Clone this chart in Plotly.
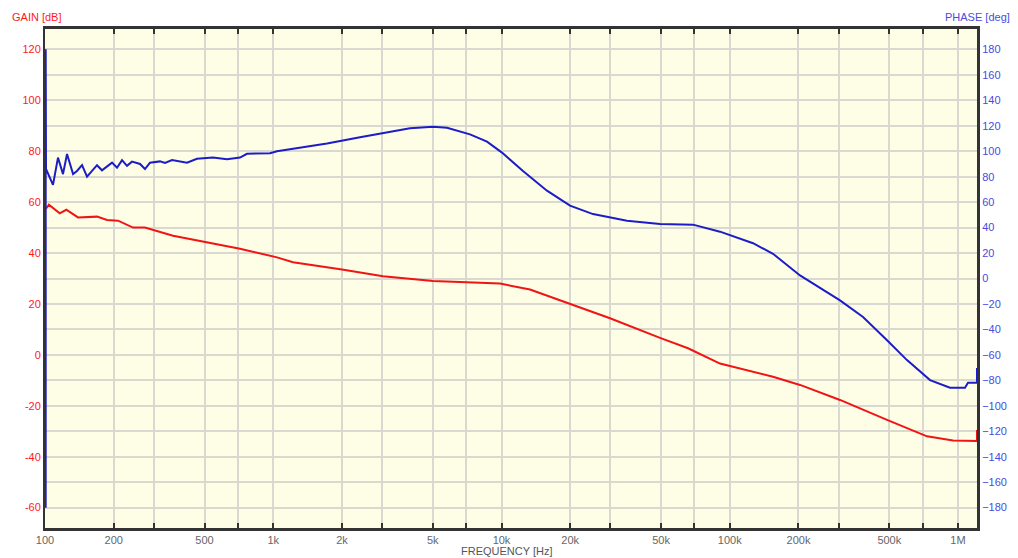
import plotly.graph_objects as go

# gain trace (red), frequency in Hz / gain in dB
gain_freq = [101, 104, 116, 124, 139.5, 169, 187, 209, 243, 274, 364, 513, 715, 1038,
             1221, 2001, 3026, 5011, 6579, 9850, 13330, 19960, 29880, 49490, 65640,
             90640, 154700, 203200, 304100, 488700, 731500, 950700, 1211000, 1211000]
gain_db = [57.4, 59.0, 55.6, 57.0, 54.0, 54.3, 53.0, 52.7, 50.0, 50.0, 46.8, 44.2, 41.7, 38.3,
           36.4, 33.5, 30.9, 29.0, 28.6, 28.0, 25.7, 20.2, 14.4, 6.7, 2.6,
           -3.4, -8.6, -11.8, -17.7, -25.5, -32.0, -33.6, -33.8, -29.5]

# phase trace (blue), frequency in Hz / phase in deg
phase_freq = [100.7, 100.7, 101, 108.4, 114, 119.9, 124.9, 132.7, 138.1, 145.3, 152.8, 169, 177.7,
              196.6, 206.8, 217.5, 228.7, 240.5, 260.8, 274.2, 288.4, 319, 335.6, 360, 419,
              463, 544.5, 627, 715, 767, 968, 1038, 1221, 1720, 2399, 3026, 3973, 5011, 5771,
              7278, 8639, 10050, 12420, 15820, 19960, 25170, 35460, 49490, 69020, 90640,
              110900, 126500, 154700, 203200, 304100, 383600, 488700, 597800, 754000,
              922600, 1073000, 1106000, 1211000, 1211000]
phase_deg = [-180, 180, 86, 73.6, 95, 82, 97.8, 82, 84.5, 89, 80, 89, 85,
             91, 87, 93, 88.5, 91.8, 90, 86, 91, 92, 90.8, 93, 91,
             94, 95, 93.7, 95, 98, 98.4, 100, 102, 106, 111, 114.5, 118, 119.2, 118.4,
             113.2, 107.5, 98.9, 84.5, 69, 57.2, 50.6, 45.4, 42.8, 42.3, 36.8,
             31, 27.7, 19.4, 2.4, -17.2, -30.2, -48.5, -64.1, -79.8,
             -85.8, -85.8, -81.9, -81.9, -70.4]

freq_ticks = [100, 200, 300, 500, 700, 1e3, 2e3, 3e3, 5e3, 7e3, 1e4, 2e4, 3e4, 5e4, 7e4,
              1e5, 2e5, 3e5, 5e5, 7e5, 1e6]
freq_labels = ["100", "200", "", "500", "", "1k", "2k", "", "5k", "", "10k", "20k", "", "50k", "",
               "100k", "200k", "", "500k", "", "1M"]
gain_ticks = list(range(-60, 121, 10))
gain_labels = [str(v) if v % 20 == 0 else "" for v in gain_ticks]
phase_ticks = list(range(-180, 181, 20))

FONT = "Liberation Sans, Arial, sans-serif"

fig = go.Figure()
fig.add_trace(go.Scatter(x=gain_freq, y=gain_db, mode="lines", name="gain",
                         line=dict(color="#f01414", width=2), yaxis="y"))
fig.add_trace(go.Scatter(x=phase_freq, y=phase_deg, mode="lines", name="phase",
                         line=dict(color="#1c1cc8", width=2), yaxis="y2"))

fig.update_layout(
    width=1018, height=558, showlegend=False,
    margin=dict(l=45, r=41, t=29, b=30),
    paper_bgcolor="white", plot_bgcolor="#fefee6",
    font=dict(family=FONT, size=11),
    xaxis=dict(type="log", range=[2, 6.0832], tickvals=freq_ticks, ticktext=freq_labels,
               showgrid=True, gridcolor="#d9d9d2", gridwidth=2,
               showline=True, linecolor="#333333", linewidth=3, mirror="ticks",
               ticks="inside", ticklen=5, tickwidth=2, tickcolor="#333333",
               tickfont=dict(color="#666666", size=11), zeroline=False),
    yaxis=dict(range=[-68, 128], tickvals=gain_ticks, ticktext=gain_labels,
               showgrid=True, gridcolor="#d9d9d2", gridwidth=2, zeroline=False,
               showline=True, linecolor="#333333", linewidth=2, layer="below traces",
               ticks="", tickfont=dict(color="#ff1a1a", size=11)),
    yaxis2=dict(range=[-196, 196], tickvals=phase_ticks, overlaying="y", side="right",
                showgrid=False, zeroline=False, showline=True, linecolor="#333333",
                linewidth=3, layer="below traces", ticks="",
                tickfont=dict(color="#4a4ae0", size=11)),
    annotations=[
        dict(text="GAIN [dB]", xref="paper", yref="paper", x=-0.0376, y=1,
             xanchor="left", yanchor="bottom", yshift=4, showarrow=False,
             font=dict(color="#ff1a1a", size=11)),
        dict(text="PHASE [deg]", xref="paper", yref="paper", x=1.0376, y=1,
             xanchor="right", yanchor="bottom", yshift=4, showarrow=False,
             font=dict(color="#4a4ae0", size=11)),
        dict(text="FREQUENCY [Hz]", xref="paper", yref="paper", x=0.4957, y=0,
             xanchor="center", yanchor="middle", yshift=-23, showarrow=False,
             font=dict(color="#555555", size=11)),
    ],
)

fig.write_html("out.html", config={"displayModeBar": False},
               post_script="document.body.style.margin='0';")
